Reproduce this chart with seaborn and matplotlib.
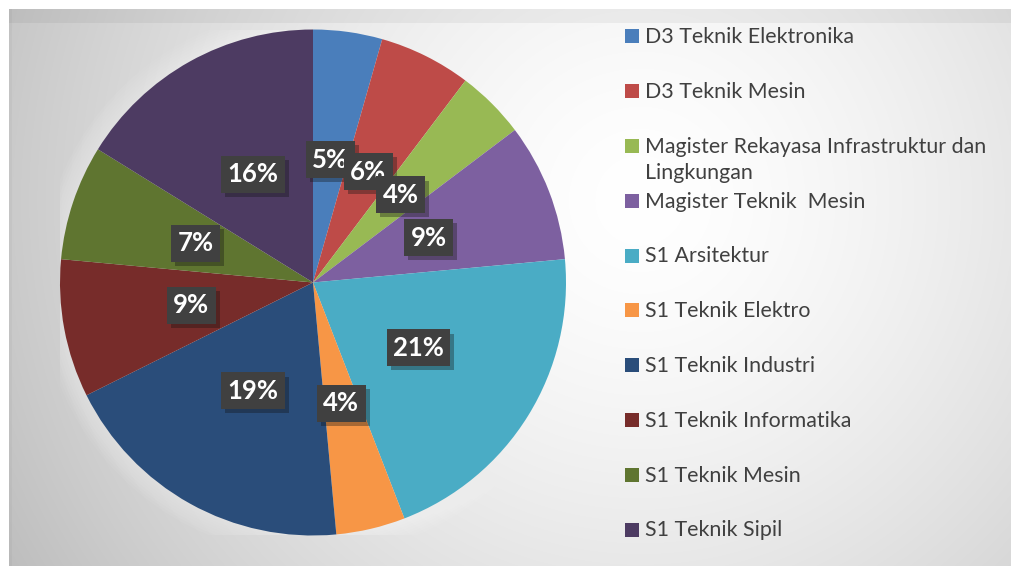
import numpy as np
import matplotlib
matplotlib.use('Agg')
import matplotlib.pyplot as plt
import matplotlib.patheffects as pe
from matplotlib.patches import Rectangle, Circle
import seaborn as sns

sns.set_style('white')
plt.rcParams['font.family'] = ['Lato', 'DejaVu Sans']

# data (counts per study programme)
programs = [
    'D3 Teknik Elektronika',
    'D3 Teknik Mesin',
    'Magister Rekayasa Infrastruktur dan\nLingkungan',
    'Magister Teknik  Mesin',
    'S1 Arsitektur',
    'S1 Teknik Elektro',
    'S1 Teknik Industri',
    'S1 Teknik Informatika',
    'S1 Teknik Mesin',
    'S1 Teknik Sipil',
]
counts = [3, 4, 3, 6, 14, 3, 13, 6, 5, 11]
pct_labels = ['5%', '6%', '4%', '9%', '21%', '4%', '19%', '9%', '7%', '16%']
colors = ['#4A7EBB', '#BE4B48', '#98B954', '#7D60A0', '#4AACC5',
          '#F79646', '#2A4D7A', '#772C2A', '#5F7530', '#4D3B62']

W, H = 1012, 566
fig = plt.figure(figsize=(W / 100, H / 100), dpi=100)

# background with soft radial gradient
bg = fig.add_axes([0, 0, 1, 1])
yy, xx = np.mgrid[0:H, 0:W]
d = np.hypot(xx - 640, yy - 200)
shade = 1 - 0.22 * (d / 660) ** 1.5
shade[9:23, :] *= 0.95
shade[:, 9:12] *= 0.97
shade[:9, :] = 1
shade[:, :9] = 1
img = np.dstack([shade] * 3).clip(0, 1)
bg.imshow(img, extent=(0, W, H, 0), aspect='auto', interpolation='bilinear')
bg.set_xlim(0, W)
bg.set_ylim(H, 0)
bg.axis('off')

# legend drawn by hand (Excel-style fixed rows)
for i, (name, col) in enumerate(zip(programs, colors)):
    yc = 36.3 + 54.8 * i
    bg.add_patch(Rectangle((625, yc - 7), 14, 14, color=col, lw=0))
    for j, line in enumerate(name.split('\n')):
        bg.text(645, yc + 7 + 26.5 * j, line, fontsize=15.4, color='#404040',
                va='baseline', ha='left')

# pie
cx, cy, R = 313, 282.5, 253
ax = fig.add_axes([(cx - R) / W, (H - cy - R) / H, 2 * R / W, 2 * R / H])
for k in range(8):
    ax.add_patch(Circle((0, 0), 1 + 0.01 * (k + 1), color='white', alpha=0.05, lw=0, zorder=0))
wedges, texts = ax.pie(counts, colors=colors, labels=pct_labels, labeldistance=0.49,
                       startangle=90, counterclock=False,
                       wedgeprops=dict(linewidth=0))
for t in texts:
    t.set_ha('center')
    t.set_va('center')
    t.set_fontsize(18.5)
    t.set_fontweight('bold')
    t.set_color('white')
    t.set_bbox(dict(boxstyle='square,pad=0.25', fc='#404040', lw=0))
    t.get_bbox_patch().set_path_effects([pe.withSimplePatchShadow(offset=(3, -3), alpha=0.35), pe.Normal()])
ax.set_xlim(-1, 1)
ax.set_ylim(-1, 1)
ax.axis('off')

fig.savefig('out.png', dpi=100)
